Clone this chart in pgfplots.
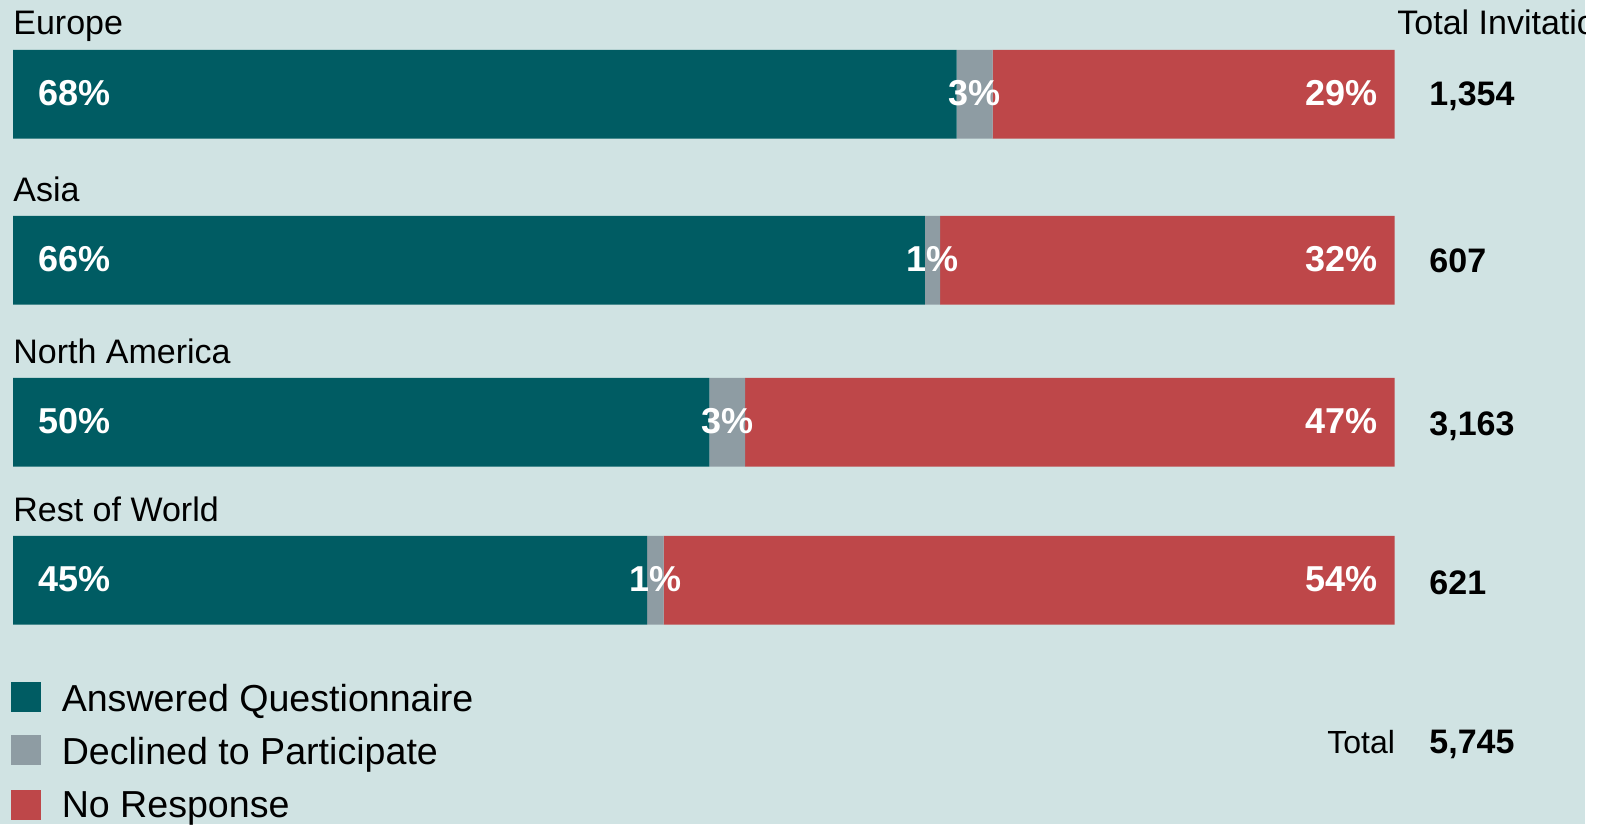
\documentclass[border=0pt]{standalone}
\usepackage{fontspec}
\setmainfont{Liberation Sans}
\usepackage{pgfplots}
\pgfplotsset{compat=1.18}

\definecolor{bgcol}{HTML}{D0E3E3}
\definecolor{answered}{HTML}{005C63}
\definecolor{declined}{HTML}{8E9CA3}
\definecolor{noresp}{HTML}{BE4749}

\newcommand{\catfont}{\fontsize{17}{20}\selectfont}
\newcommand{\pctfont}{\fontsize{18}{21}\selectfont\bfseries}
\newcommand{\numfont}{\fontsize{17}{20}\selectfont\bfseries}
\newcommand{\legfont}{\fontsize{18.8}{22}\selectfont}

\tikzset{
  lbl/.style={inner sep=0, font=\catfont},
  pct/.style={inner sep=0, text=white, font=\pctfont},
  num/.style={inner sep=0, anchor=base west, font=\numfont},
}

\begin{document}
\begin{tikzpicture}
\useasboundingbox (0,0) rectangle (802.5pt,412pt);
\begin{scope}
\clip (0,0) rectangle (792.5pt,412pt);
\fill[bgcol] (0,0) rectangle (792.5pt,412pt);
\begin{axis}[
  at={(0,0)}, anchor=south west,
  scale only axis, width=802.5pt, height=412pt,
  xmin=-0.941, xmax=115.237,
  ymin=-824, ymax=0,
  hide axis, clip=false,
  xbar stacked, bar width=44.35pt,
  every axis plot/.append style={draw=none},
]
% y = minus bar centre (px from top); Europe, Asia, North America, Rest of World
\addplot[fill=answered] coordinates {(68.3,-94.3) (66.0,-260.3) (50.4,-422.3) (45.9,-580.3)};
\addplot[fill=declined] coordinates {(2.6,-94.3) (1.1,-260.3) (2.6,-422.3) (1.2,-580.3)};
\addplot[fill=noresp]   coordinates {(29.1,-94.3) (32.9,-260.3) (47.0,-422.3) (52.9,-580.3)};

% anchor points for the percentages in the bars (drawn after the axis)
\coordinate (eA) at (axis cs:1.81,-106);  \coordinate (eD) at (axis cs:69.6,-106);  \coordinate (eN) at (axis cs:98.8,-106);
\coordinate (aA) at (axis cs:1.81,-272);  \coordinate (aD) at (axis cs:66.55,-272); \coordinate (aN) at (axis cs:98.8,-272);
\coordinate (nA) at (axis cs:1.81,-434);  \coordinate (nD) at (axis cs:51.7,-434);  \coordinate (nN) at (axis cs:98.8,-434);
\coordinate (rA) at (axis cs:1.81,-592);  \coordinate (rD) at (axis cs:46.5,-592);  \coordinate (rN) at (axis cs:98.8,-592);

% region names
\node[lbl, anchor=base west] at (axis cs:0,-35)  {Europe};
\node[lbl, anchor=base west] at (axis cs:0,-202) {Asia};
\node[lbl, anchor=base west] at (axis cs:0,-364) {North America};
\node[lbl, anchor=base west] at (axis cs:0,-522) {Rest of World};

% totals
\node[lbl, anchor=base west] at (axis cs:100.18,-35) {Total Invitations};
\node[num] at (axis cs:102.5,-106) {1,354};
\node[num] at (axis cs:102.5,-273) {607};
\node[num] at (axis cs:102.5,-436) {3,163};
\node[num] at (axis cs:102.5,-595) {621};
\node[inner sep=0, anchor=base west, font=\fontsize{16}{19}\selectfont] at (axis cs:95.11,-754) {Total};
\node[num] at (axis cs:102.5,-754) {5,745};

% legend
\fill[answered] (axis cs:-0.145,-682) rectangle (axis cs:2.027,-712);
\fill[declined] (axis cs:-0.145,-735) rectangle (axis cs:2.027,-765);
\fill[noresp]   (axis cs:-0.145,-790) rectangle (axis cs:2.027,-820);
\node[inner sep=0, anchor=base west, font=\legfont] at (axis cs:3.5,-712) {Answered Questionnaire};
\node[inner sep=0, anchor=base west, font=\legfont] at (axis cs:3.5,-765) {Declined to Participate};
\node[inner sep=0, anchor=base west, font=\legfont] at (axis cs:3.5,-817) {No Response};
\end{axis}

\node[pct, anchor=base west] at (eA) {68\%};
\node[pct, anchor=base]      at (eD) {3\%};
\node[pct, anchor=base east] at (eN) {29\%};
\node[pct, anchor=base west] at (aA) {66\%};
\node[pct, anchor=base]      at (aD) {1\%};
\node[pct, anchor=base east] at (aN) {32\%};
\node[pct, anchor=base west] at (nA) {50\%};
\node[pct, anchor=base]      at (nD) {3\%};
\node[pct, anchor=base east] at (nN) {47\%};
\node[pct, anchor=base west] at (rA) {45\%};
\node[pct, anchor=base]      at (rD) {1\%};
\node[pct, anchor=base east] at (rN) {54\%};
\end{scope}
\end{tikzpicture}
\end{document}
